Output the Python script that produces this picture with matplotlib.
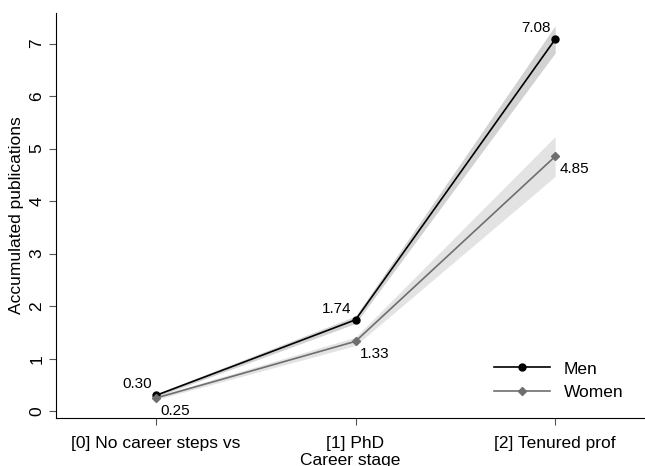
import matplotlib.pyplot as plt

plt.rcParams['font.family'] = ['Liberation Sans', 'DejaVu Sans']

stages = ["[0] No career steps vs", "[1] PhD", "[2] Tenured prof"]
men = [0.30, 1.74, 7.08]
men_lo = [0.27, 1.67, 6.82]
men_hi = [0.33, 1.81, 7.34]
women = [0.25, 1.33, 4.85]
women_lo = [0.22, 1.25, 4.47]
women_hi = [0.28, 1.41, 5.23]

x = range(len(stages))

fig = plt.figure(figsize=(6.45, 4.66), dpi=100)
ax = fig.add_axes([0.087, 0.103, 0.913, 0.869])

ax.fill_between(x, women_lo, women_hi, color='#c8c8c8', alpha=0.5, lw=0)
ax.fill_between(x, men_lo, men_hi, color='#b4b4b4', alpha=0.6, lw=0)
ax.plot(x, men, color='black', marker='o', ms=5, lw=1.2, label='Men')
ax.plot(x, women, color='#6e6e6e', marker='D', ms=4.5, lw=1.2, label='Women')

for i in x:
    ax.annotate(f"{men[i]:.2f}", (i, men[i]), xytext=(-3, 3), textcoords='offset points',
                ha='right', va='bottom', fontsize=11)
    ax.annotate(f"{women[i]:.2f}", (i, women[i]), xytext=(3, -4), textcoords='offset points',
                ha='left', va='top', fontsize=11)

ax.set_xlim(-0.5, 2.45)
ax.set_ylim(-0.13, 7.58)
ax.set_xticks(list(x))
ax.set_xticklabels(stages, fontsize=12.5)
ax.set_yticks(range(8))
ax.set_yticklabels([str(v) for v in range(8)], rotation=90, va='center', fontsize=12.5)
ax.set_xlabel('Career stage', fontsize=12.5, labelpad=1.5)
ax.set_ylabel('Accumulated publications', fontsize=12.5)
ax.spines['top'].set_visible(False)
ax.spines['right'].set_visible(False)
ax.tick_params(color='#555555', length=5)
ax.tick_params(axis='x', pad=8)

ax.legend(loc='lower right', bbox_to_anchor=(0.99, 0.005), frameon=False, fontsize=12.5,
          handlelength=3.2, labelspacing=0.5)

fig.savefig('out.png', dpi=100)
